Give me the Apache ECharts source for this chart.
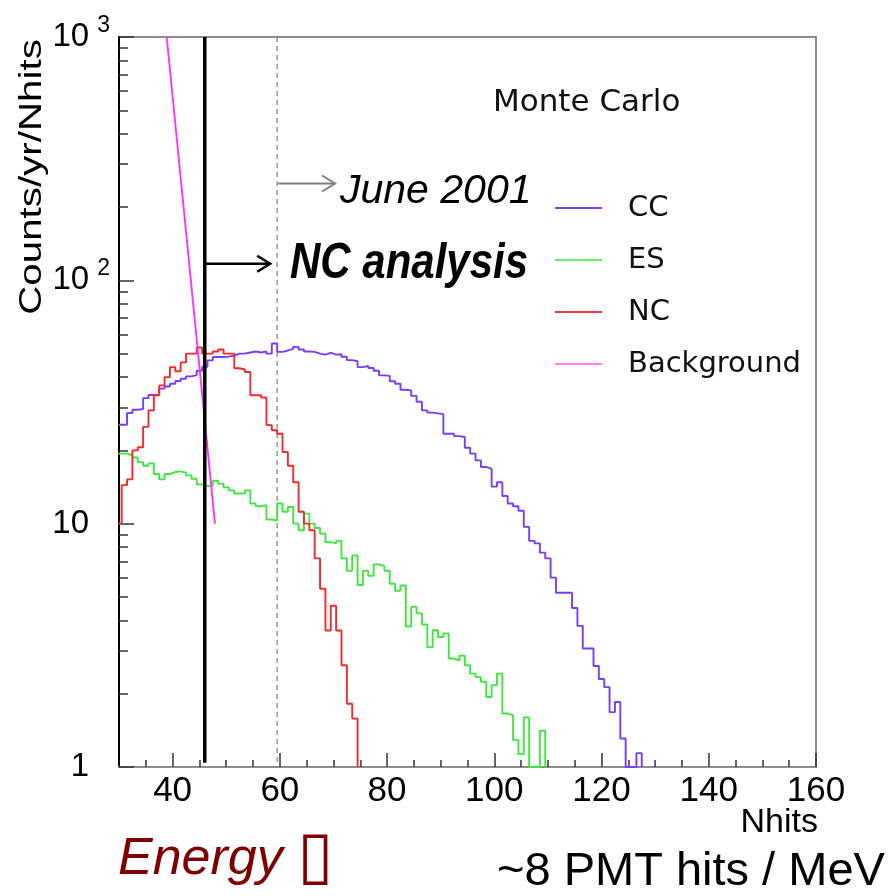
<!DOCTYPE html>
<html><head><meta charset="utf-8">
<script src="https://cdn.jsdelivr.net/npm/echarts@6/dist/echarts.min.js"></script>
<style>html,body{margin:0;padding:0;background:#fff}#c{width:894px;height:896px}</style>
</head><body><div id="c"></div>
<script>
// ---- data (1-Nhit bins centred on integer Nhits, first bin = 30) ----
const firstBin = 30;
const ccValues = [
  25.5,25.5,28.5,29.4,29.6,32.8,33.8,33.8,35.9,36.6,
  37.6,38.6,39.4,40.3,40.8,42.5,44.1,46.9,48.4,48.4,
  48.6,49.1,50,50,50.5,51,50.5,51,50,55,
  50.8,51.5,52.3,53.3,52,51,50.8,50,49.5,50.3,
  49.5,49.7,48.5,47,46.5,44,44.5,43.6,42.5,40.7,
  40.5,38.5,37.6,35.5,35.3,33.5,31.7,29.2,28.6,28.4,
  28.2,23.4,23.4,22.9,22.7,20.5,19.4,18.2,17.1,16.8,
  14.2,14.8,13,12.1,11.8,11.3,9.7,8.5,8.3,7.6,
  7.2,6.0,5.2,5.2,5.2,4.5,3.8,3.07,3.07,2.6,
  2.3,2.13,1.68,1.85,1.31,0,0,1.14,0
];
const esValues = [
  19.4,19.4,19.1,18.7,17.9,17.3,17.7,16.0,15.2,16.0,
  16.3,16.4,16.2,15.8,15.3,14.5,14.3,14.3,15.0,14.6,
  14.1,13.7,13.3,13.3,13.7,12.1,11.8,11.9,10.4,10.3,
  12.1,11.2,11.7,10.0,9.4,11.0,10.0,9.6,9.1,8.4,
  8.3,8.5,7.2,6.4,7.4,5.6,6.4,6.1,6.8,6.7,
  6.4,5.66,5.3,5.57,3.78,4.55,4.28,3.85,3.11,3.65,
  3.42,3.54,2.79,2.74,2.87,2.62,2.42,2.34,2.24,1.94,
  2.17,2.42,1.66,1.63,1.29,1.13,1.6,0,0,1.41,0
];
const ncValues = [
  10,14.4,15.2,20,20.6,25,29.2,33.7,37,40,
  44,42.3,46,50,50,53,50,50,51,52,
  50,50,43.5,43,42,33.7,33.7,33,25.4,24.2,
  23.4,19.7,17.3,14.8,11.2,10,9.4,7.2,5.4,3.64,
  4.6,3.64,2.62,1.82,1.58,0
];
const bgNhits = [38.9, 47.9];
const bgValues = [1000, 10];
const cutNhits = 46;        // NC analysis threshold
const juneNhits = 59.5;     // June 2001 threshold
const xMajorTicks = [40, 60, 80, 100, 120, 140, 160];
const xMinorTicks = [35,45,50,55,65,70,75,85,90,95,105,110,115,125,130,135,145,150,155];
const yMinorTicks = [2,3,4,5,6,7,8,9,20,30,40,50,60,70,80,90,200,300,400,500,600,700,800,900];
const yTickBase = {1: '1', 10: '10', 100: '10', 1000: '10'};
const yTickSup = {1: '', 10: '', 100: '2', 1000: '3'};

const FLOOR = 1; // empty bins sit on the log-axis floor
function histPoints(first, vals) {
  const pts = vals.map((v, i) => [first + i - 0.5, v > 0 ? v : FLOOR]);
  const n = vals.length - 1;
  if (vals[n] > 0) pts.push([first + n + 0.5, vals[n]]);
  return pts;
}

const C_CC = '#7a3cff', C_ES = '#3fe83f', C_NC = '#f52a2a', C_BG = '#ff33ff';
const tickStyle = {color: '#333', width: 1.5};

const chart = echarts.init(document.getElementById('c'), null, {renderer: 'canvas'});
const option = {
  animation: false,
  backgroundColor: '#fff',
  title: {
    text: 'Monte Carlo', left: 493, top: 87, padding: 0,
    textStyle: {fontFamily: 'DejaVu Sans', fontSize: 31, fontWeight: 'normal', color: '#111'}
  },
  legend: {
    data: ['CC', 'ES', 'NC', 'Background'],
    orient: 'vertical', left: 555, top: 193, padding: 0,
    icon: 'rect', itemWidth: 47, itemHeight: 2, itemGap: 22,
    selectedMode: false,
    textStyle: {fontFamily: 'DejaVu Sans', fontSize: 29, color: '#111', lineHeight: 30, padding: [0, 0, 0, 21]}
  },
  grid: {left: 119, right: 78, top: 37, bottom: 129, show: true, borderColor: '#8c8c8c', borderWidth: 2},
  xAxis: [
    {
      type: 'value', min: 30, max: 160, position: 'bottom',
      axisLine: {show: true, onZero: false, lineStyle: {color: '#8c8c8c', width: 2}},
      axisTick: {show: true, inside: true, length: 14, lineStyle: tickStyle, customValues: xMajorTicks},
      axisLabel: {customValues: xMajorTicks, margin: 7, fontSize: 35, fontFamily: 'Liberation Sans', color: '#000'},
      splitLine: {show: false}
    },
    {
      type: 'value', min: 30, max: 160, position: 'bottom',
      axisLine: {show: false},
      axisTick: {show: true, inside: true, length: 7, lineStyle: tickStyle, customValues: xMinorTicks},
      axisLabel: {show: false},
      splitLine: {show: false}
    }
  ],
  yAxis: [
    {
      type: 'log', logBase: 10, min: 1, max: 1000, position: 'left',
      axisLine: {show: true, onZero: false, lineStyle: {color: '#000', width: 2}},
      axisTick: {show: true, inside: true, length: 15, lineStyle: tickStyle},
      axisLabel: {
        margin: 9,
        formatter: v => {
          const k = Math.round(v);
          return yTickSup[k] ? '{b|' + yTickBase[k] + '}{s|' + yTickSup[k] + '}' : '{b|' + yTickBase[k] + '}{p| }';
        },
        rich: {
          b: {fontSize: 33, fontFamily: 'Liberation Sans', color: '#000', lineHeight: 46, verticalAlign: 'middle'},
          s: {fontSize: 23, fontFamily: 'Liberation Sans', color: '#000', lineHeight: 23, verticalAlign: 'top', padding: [0, 0, 0, 8]},
          p: {width: 21, fontSize: 22}
        }
      },
      splitLine: {show: false}
    },
    {
      type: 'log', logBase: 10, min: 1, max: 1000, position: 'left',
      axisLine: {show: false},
      axisTick: {show: true, inside: true, length: 9, lineStyle: tickStyle, customValues: yMinorTicks},
      axisLabel: {show: false},
      splitLine: {show: false}
    }
  ],
  series: [
    {name: 'CC', type: 'line', step: 'end', symbol: 'none', data: histPoints(firstBin, ccValues),
     lineStyle: {color: C_CC, width: 1.9}, itemStyle: {color: C_CC}, z: 3},
    {name: 'ES', type: 'line', step: 'end', symbol: 'none', data: histPoints(firstBin, esValues),
     lineStyle: {color: C_ES, width: 1.9}, itemStyle: {color: '#66f066'}, z: 3},
    {name: 'NC', type: 'line', step: 'end', symbol: 'none', data: histPoints(firstBin, ncValues),
     lineStyle: {color: C_NC, width: 1.9}, itemStyle: {color: '#ee3a3a'}, z: 4},
    {name: 'Background', type: 'line', symbol: 'none', data: bgNhits.map((x, i) => [x, bgValues[i]]),
     lineStyle: {color: C_BG, width: 1.9}, itemStyle: {color: '#ff80ff'}, z: 4},
    {name: 'cut', type: 'line', symbol: 'none', data: [[cutNhits, 1000], [cutNhits, 1.04]],
     lineStyle: {color: '#000', width: 3.5}, z: 5},
    {name: 'june', type: 'line', symbol: 'none', data: [[juneNhits, 1000], [juneNhits, 1]],
     lineStyle: {color: '#888', width: 1.3, type: [5, 4]}, z: 2}
  ]
};
chart.setOption(option);

const px = (x, y) => chart.convertToPixel({xAxisIndex: 0, yAxisIndex: 0}, [x, y]);
function arrow(x0, x1, yv, color, w) {
  const a = px(x0, yv), b = px(x1, yv);
  return {
    type: 'group', children: [
      {type: 'line', shape: {x1: a[0], y1: a[1], x2: b[0], y2: b[1]}, style: {stroke: color, lineWidth: w}},
      {type: 'polyline', shape: {points: [[b[0] - 13, b[1] - 8], [b[0], b[1]], [b[0] - 13, b[1] + 8]]},
       style: {stroke: color, lineWidth: w, fill: null}}
    ]
  };
}
chart.setOption({
  graphic: [
    arrow(juneNhits + 0.2, 70.3, 250, '#7f7f7f', 2),
    arrow(cutNhits + 0.2, 58.2, 117, '#000', 2.5),
    {type: 'text', x: 340, y: 192, style: {text: 'June 2001', font: 'italic 41px "Liberation Sans"', fill: '#000', align: 'left', verticalAlign: 'middle'}},
    {type: 'text', x: 290, y: 264, scaleY: 1.2, style: {text: 'NC analysis', font: 'italic bold 42px "Liberation Sans"', fill: '#000', align: 'left', verticalAlign: 'middle'}},
    {type: 'text', x: 32, y: 177, rotation: Math.PI / 2, scaleX: 1.26, style: {text: 'Counts/yr/Nhits', font: '32px "Liberation Sans"', fill: '#000', align: 'center', verticalAlign: 'middle'}},
    {type: 'text', x: 818, y: 823, style: {text: 'Nhits', font: '34px "Liberation Sans"', fill: '#000', align: 'right', verticalAlign: 'middle'}},
    {type: 'text', x: 118, y: 860, style: {
      text: '{e|Energy }{k|\u25AF}', align: 'left', verticalAlign: 'middle',
      rich: {
        e: {font: 'italic 52px "Liberation Sans"', fill: '#800000', lineHeight: 60},
        k: {font: 'italic 66px "DejaVu Sans"', fill: '#800000', lineHeight: 60}
      }
    }},
    {type: 'text', x: 497, y: 872, style: {text: '~8 PMT hits / MeV', font: '47px "Liberation Sans"', fill: '#000', align: 'left', verticalAlign: 'middle'}}
  ]
});
</script></body></html>
